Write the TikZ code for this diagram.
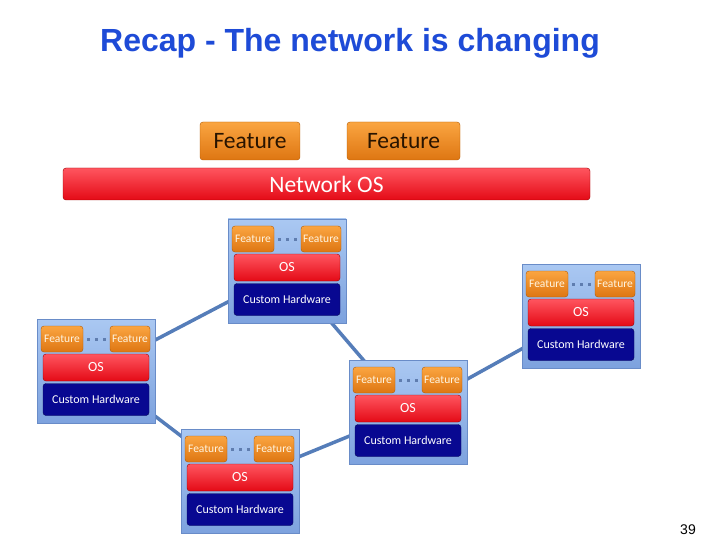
\documentclass[tikz,border=0pt]{standalone}
\usepackage{fontspec}
\setmainfont{Carlito}
\newfontfamily\arialfont{Liberation Sans}
\usetikzlibrary{calc}
\pgfdeclarelayer{background}
\pgfsetlayers{background,main}

\definecolor{titleblue}{RGB}{30,75,215}
\definecolor{linkblue}{RGB}{85,125,185}

\begin{document}
\begin{tikzpicture}[x=1pt,y=-1pt,
	feat/.style={rounded corners=3pt,draw=orange!70!black,top color={rgb,255:red,250;green,165;blue,65},bottom color={rgb,255:red,222;green,118;blue,18},inner sep=0pt},
	osbar/.style={rounded corners=3pt,draw=red!60!black,top color={rgb,255:red,255;green,85;blue,95},bottom color={rgb,255:red,228;green,10;blue,22},text=white,inner sep=0pt},
	hwbar/.style={rounded corners=3pt,draw={rgb,255:red,10;green,10;blue,90},fill={rgb,255:red,8;green,8;blue,145},text=white,inner sep=0pt},
	router/.style={draw={rgb,255:red,105;green,140;blue,200},top color={rgb,255:red,170;green,200;blue,242},bottom color={rgb,255:red,125;green,162;blue,222},minimum width=118pt,minimum height=104pt},
	dots/.style={draw={rgb,255:red,95;green,125;blue,175},line width=3pt,dash pattern=on 3pt off 5pt,shorten <=4pt,shorten >=4pt},
	link/.style={draw=linkblue,line width=3.5pt}]
	\useasboundingbox (0,0) rectangle (720,540);
	\node[text=titleblue,font=\arialfont\bfseries\fontsize{32}{36}\selectfont] (title) at (350,43) {Recap - The network is changing};
	% controller on top
	\node[feat,minimum width=100pt,minimum height=38pt,font=\fontsize{23.5}{27}\selectfont,text={rgb,255:red,40;green,20;blue,0}] (app1) at (250,141) {Feature};
	\node[feat,minimum width=113pt,minimum height=38pt,font=\fontsize{23.5}{27}\selectfont,text={rgb,255:red,40;green,20;blue,0}] (app2) at (403.5,141) {Feature};
	\node[osbar,minimum width=527pt,minimum height=32pt,font=\fontsize{23.5}{27}\selectfont] (netos) at (326.5,184) {Network OS};
	% switches
	\foreach \r/\x/\y in {r1/287/271,r2/581/316,r3/96/371,r4/240/481,r5/408/412}{
		\node[router] (\r) at (\x,\y) {};
		\node[feat,minimum width=42pt,minimum height=26pt,text={rgb,255:red,255;green,245;blue,225},font=\fontsize{11.5}{13}\selectfont] (\r-f1) at ($(\r)+(-34,-32)$) {Feature};
		\node[feat,minimum width=40pt,minimum height=26pt,text={rgb,255:red,255;green,245;blue,225},font=\fontsize{11.5}{13}\selectfont] (\r-f2) at ($(\r)+(34,-32)$) {Feature};
		\draw[dots] (\r-f1) -- (\r-f2);
		\node[osbar,minimum width=106pt,minimum height=27pt,font=\fontsize{14}{16}\selectfont] (\r-os) at ($(\r)+(0,-3.5)$) {OS};
		\node[hwbar,minimum width=106pt,minimum height=32pt,font=\fontsize{12}{14}\selectfont] (\r-hw) at ($(\r)+(0,28.5)$) {Custom Hardware};
	}
	\begin{pgfonlayer}{background}
		\draw[link] (r3.center) -- (r1.center) (r1.center) -- (r5.center) (r5.center) -- (r2.center);
		\draw[link] (r3.center) -- (r4.center) (r4.center) -- (r5.center);
	\end{pgfonlayer}
	\node[font=\arialfont\fontsize{14}{16}\selectfont] (page) at (688,530) {39};
\end{tikzpicture}
\end{document}
